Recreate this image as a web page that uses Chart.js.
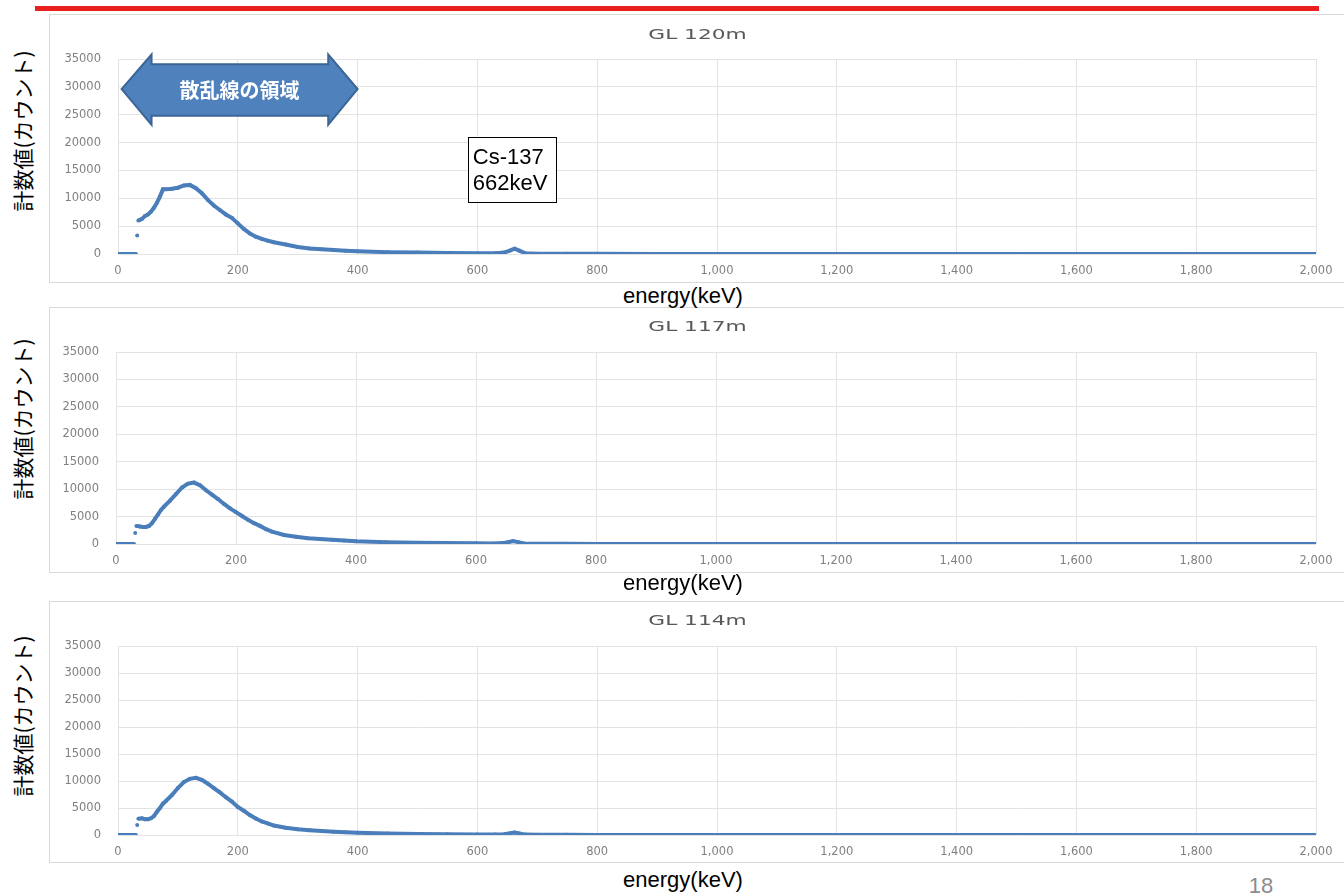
<!DOCTYPE html>
<html lang="ja">
<head>
<meta charset="utf-8">
<title>GL spectra</title>
<script src="https://cdn.jsdelivr.net/npm/chart.js@4.4.1/dist/chart.umd.min.js"></script>
<style>
  html, body { margin: 0; padding: 0; background: #fff; }
  body { width: 1344px; height: 893px; position: relative; overflow: hidden; }
  .redline { position: absolute; left: 35px; top: 6px; width: 1284px; height: 5px; background: #e8211f; }
  .box { position: absolute; left: 49px; width: 1297px; border: 1px solid #d9d9d9; box-sizing: border-box; }
  .ytitle { position: absolute; left: 22px; font-family: "Noto Sans CJK JP", sans-serif; font-size: 21px; color: #000;
            white-space: nowrap; line-height: 1; transform: translate(-50%, -50%) rotate(-90deg); }
  .xtitle { position: absolute; left: 683px; font-family: "Liberation Sans", Arial, sans-serif; font-size: 22px; color: #000;
            white-space: nowrap; line-height: 1; transform: translate(-50%, -50%); }
  .page { position: absolute; left: 1261px; top: 886px; transform: translate(-50%, -50%); font-family: "Liberation Sans", Arial, sans-serif;
          font-size: 22px; color: #8c8c8c; line-height: 1; }
</style>
</head>
<body>
<div class="redline"></div>

<div class="box" style="top:14px;height:269px"><canvas id="c1"></canvas></div>
<div class="box" style="top:307px;height:266px"><canvas id="c2"></canvas></div>
<div class="box" style="top:601px;height:262px"><canvas id="c3"></canvas></div>

<div class="ytitle" style="top:131px">計数値(カウント)</div>
<div class="ytitle" style="top:419px">計数値(カウント)</div>
<div class="ytitle" style="top:716px">計数値(カウント)</div>

<div class="xtitle" style="top:296px">energy(keV)</div>
<div class="xtitle" style="top:583px">energy(keV)</div>
<div class="xtitle" style="top:880px">energy(keV)</div>

<div class="page">18</div>

<script>
// energy (keV) of each sample, shared by the three spectra
const energy = [0, 10, 20, 30, 31, 32, 33, 34, 40, 45, 50, 55, 60, 65, 70, 75, 80, 90, 100, 110,
  120, 130, 140, 150, 160, 170, 180, 190, 200, 210, 220, 230, 240, 250, 260, 280, 300, 320, 340, 360,
  380, 400, 450, 500, 550, 600, 630, 645, 655, 662, 670, 680, 700, 750, 800, 900, 1000, 1200, 1400, 1600,
  1800, 2000];

// counts (null = gap between separate dots)
const gl120 = [0, 0, 0, 0, null, 3300, null, 6000, 6300, 6800, 7100, 7600, 8300, 9200, 10300, 11600, 11600, 11700, 11900, 12300,
  12400, 11800, 10900, 9700, 8700, 7900, 7100, 6500, 5500, 4500, 3700, 3100, 2700, 2400, 2100, 1700, 1250, 1000, 850, 700,
  580, 480, 330, 250, 180, 140, 130, 250, 650, 950, 600, 120, 60, 40, 30, 10, 5, 0, 0, 0,
  0, 0];
const gl117 = [0, 0, 0, 0, null, 2000, null, 3300, 3200, 3100, 3100, 3300, 3800, 4600, 5400, 6200, 6800, 7900, 9100, 10300,
  11000, 11200, 10700, 9800, 9000, 8200, 7300, 6500, 5800, 5100, 4400, 3800, 3300, 2700, 2250, 1650, 1330, 1050, 900, 760,
  620, 500, 330, 230, 170, 120, 100, 160, 380, 520, 350, 80, 50, 30, 20, 10, 5, 0, 0, 0,
  0, 0];
const gl114 = [0, 0, 0, 0, null, 1850, null, 3000, 3100, 2900, 2900, 3100, 3500, 4300, 5000, 5800, 6300, 7400, 8700, 9800,
  10400, 10600, 10200, 9500, 8700, 7900, 7000, 6200, 5200, 4500, 3700, 3050, 2500, 2150, 1750, 1350, 1050, 900, 750, 620,
  500, 420, 280, 200, 150, 110, 100, 150, 330, 450, 300, 70, 40, 25, 15, 10, 5, 0, 0, 0,
  0, 0];

const xTicks = [0, 200, 400, 600, 800, 1000, 1200, 1400, 1600, 1800, 2000];
const yTicks = [0, 5000, 10000, 15000, 20000, 25000, 30000, 35000];

Chart.defaults.font.family = '"DejaVu Sans", sans-serif';
Chart.defaults.font.size = 11.5;
Chart.defaults.color = '#808080';
Chart.defaults.animation = false;

const blue = '#4a7ebb';
const gridColor = '#e3e3e3';

// excel title looks stretched sideways, so draw it ourselves
const panelTitle = {
  id: 'panelTitle',
  afterDraw(chart, args, opts) {
    const ctx = chart.ctx;
    ctx.save();
    ctx.font = '14px "DejaVu Sans", sans-serif';
    ctx.fillStyle = '#595959';
    ctx.textAlign = 'center';
    ctx.textBaseline = 'middle';
    ctx.translate(chart.width / 2, opts.y);
    ctx.scale(1.55, 1);
    ctx.fillText(opts.text, 0, 0);
    ctx.restore();
  }
};

// arrow "散乱線の領域" and the Cs-137 callout, placed in data units
const arrowSpec = { tipL: 6, baseL: 56, baseR: 351, tipR: 400, mid: 29600,
  headTop: 35800, shaftTop: 34050, shaftBot: 24800, headBot: 23200, label: '散乱線の領域', labelX: 203 };
const calloutSpec = { left: 584, right: 731, top: 21070, bottom: 9340, lines: ['Cs-137', '662keV'] };

const notes = {
  id: 'notes',
  afterDraw(chart) {
    const ctx = chart.ctx;
    const X = v => chart.scales.x.getPixelForValue(v);
    const Y = v => chart.scales.y.getPixelForValue(v);
    const a = arrowSpec;

    ctx.save();
    ctx.beginPath();
    ctx.moveTo(X(a.tipL), Y(a.mid));
    ctx.lineTo(X(a.baseL), Y(a.headTop));
    ctx.lineTo(X(a.baseL), Y(a.shaftTop));
    ctx.lineTo(X(a.baseR), Y(a.shaftTop));
    ctx.lineTo(X(a.baseR), Y(a.headTop));
    ctx.lineTo(X(a.tipR), Y(a.mid));
    ctx.lineTo(X(a.baseR), Y(a.headBot));
    ctx.lineTo(X(a.baseR), Y(a.shaftBot));
    ctx.lineTo(X(a.baseL), Y(a.shaftBot));
    ctx.lineTo(X(a.baseL), Y(a.headBot));
    ctx.closePath();
    ctx.fillStyle = '#4f81bd';
    ctx.fill();
    ctx.lineWidth = 2;
    ctx.strokeStyle = '#3a6595';
    ctx.stroke();

    ctx.fillStyle = '#fff';
    ctx.font = 'bold 20px "Noto Sans CJK JP", sans-serif';
    ctx.textAlign = 'center';
    ctx.textBaseline = 'middle';
    ctx.fillText(a.label, X(a.labelX), Y(a.mid) + 1);

    const c = calloutSpec;
    const l = X(c.left), t = Y(c.top), r = X(c.right), b = Y(c.bottom);
    ctx.fillStyle = '#fff';
    ctx.fillRect(l, t, r - l, b - t);
    ctx.lineWidth = 1;
    ctx.strokeStyle = '#000';
    ctx.strokeRect(Math.round(l) + 0.5, Math.round(t) + 0.5, Math.round(r - l), Math.round(b - t));
    ctx.fillStyle = '#000';
    ctx.font = '22px "Liberation Sans", Arial, sans-serif';
    ctx.textAlign = 'left';
    c.lines.forEach((s, i) => ctx.fillText(s, l + 5, t + 21 + i * 26));
    ctx.restore();
  }
};

const panels = [
  { id: 'c1', title: 'GL 120m', counts: gl120, titleY: 20, top: 44, xh: 28, yw: 68, extra: notes },
  { id: 'c2', title: 'GL 117m', counts: gl117, titleY: 19, top: 44, xh: 28, yw: 66 },
  { id: 'c3', title: 'GL 114m', counts: gl114, titleY: 19, top: 44, xh: 27, yw: 68 }
];

panels.forEach(p => {
  new Chart(document.getElementById(p.id), {
    type: 'scatter',
    data: {
      datasets: [{
        data: energy.map((e, i) => ({ x: e, y: p.counts[i] })),
        showLine: true,
        spanGaps: false,
        borderColor: blue,
        borderWidth: 4,
        pointRadius: 2,
        pointBorderWidth: 0,
        pointBackgroundColor: blue
      }]
    },
    options: {
      responsive: true,
      maintainAspectRatio: false,
      layout: { padding: { top: p.top, right: 29, left: 0, bottom: 0 } },
      plugins: {
        legend: { display: false },
        tooltip: { enabled: false },
        panelTitle: { text: p.title, y: p.titleY }
      },
      scales: {
        x: {
          type: 'linear', min: 0, max: 2000,
          afterBuildTicks: s => { s.ticks = xTicks.map(v => ({ value: v })); },
          afterFit: s => { s.height = p.xh; },
          ticks: { padding: 10, maxRotation: 0, autoSkip: false, callback: v => v.toLocaleString('en-US') },
          grid: { color: gridColor, drawTicks: false },
          border: { display: false }
        },
        y: {
          min: 0, max: 35000,
          afterBuildTicks: s => { s.ticks = yTicks.map(v => ({ value: v })); },
          afterFit: s => { s.width = p.yw; },
          ticks: { padding: 17, callback: v => String(v) },
          grid: { color: gridColor, drawTicks: false },
          border: { display: false }
        }
      }
    },
    plugins: p.extra ? [panelTitle, p.extra] : [panelTitle]
  });
});
</script>
</body>
</html>
